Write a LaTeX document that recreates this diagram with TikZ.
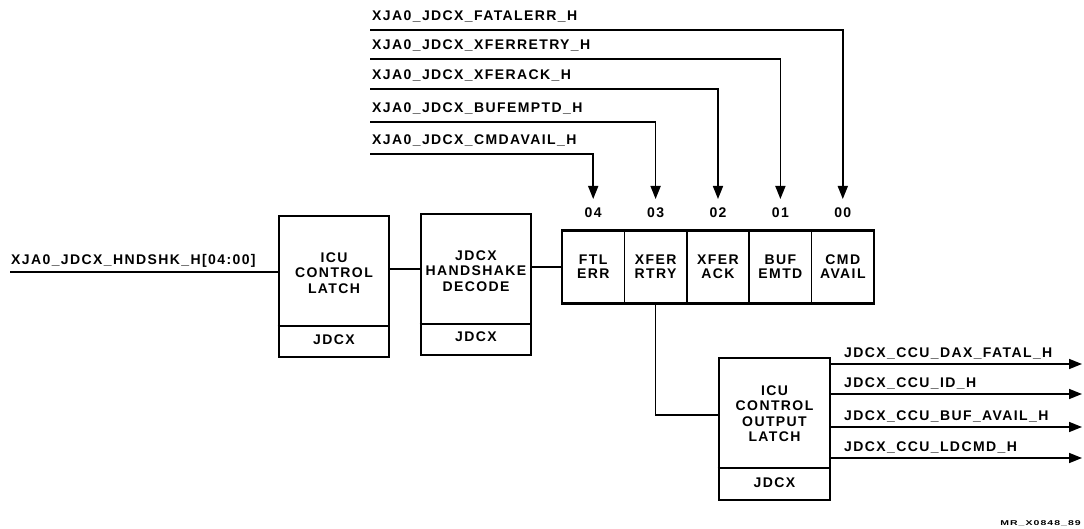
\documentclass[tikz,border=0pt]{standalone}
\usepackage{fontspec}
\setmainfont{Liberation Sans}[LetterSpace=10]
\usetikzlibrary{arrows.meta,calc}
\begin{document}
\begin{tikzpicture}[x=1pt,y=-1pt,
  txt/.style={font=\bfseries\fontsize{14}{15.5}\selectfont, inner sep=0pt, align=center},
  box/.style={draw, line width=2.6pt, inner sep=0pt},
  divl/.style={line width=1.8pt},
  wire/.style={line width=1.6pt},
  arr/.style={wire, -{Triangle[length=13pt,width=10pt]}},
  cell/.style={draw, line width=1.6pt, minimum width=62.4pt, minimum height=73pt, inner sep=0pt,
    font=\bfseries\fontsize{14}{14}\selectfont, align=center}]
\useasboundingbox (0,0) rectangle (1084,529);

% input
\coordinate (in) at (10,272);
\node[txt, anchor=base west] (inlab) at (11,265) {XJA0\_JDCX\_HNDSHK\_H[04:00]};

% ICU control latch
\node[box, minimum width=110pt, minimum height=141pt] (icu) at (334,286.5) {};
\draw[divl] (icu.west |- 0,326) -- (icu.east |- 0,326);
\node[txt] (icut) at (334,273) {ICU\\CONTROL\\LATCH};
\node[txt] (icuj) at (334,340) {JDCX};

% handshake decode
\node[box, minimum width=110pt, minimum height=141pt] (dec) at (476,284.5) {};
\draw[divl] (dec.west |- 0,324) -- (dec.east |- 0,324);
\node[txt] (dect) at (476,271) {JDCX\\HANDSHAKE\\DECODE};
\node[txt] (decj) at (476,337) {JDCX};

% register
\node[cell] (c4) at (593.2,267) {FTL\\ERR};
\node[cell] (c3) at (655.6,267) {XFER\\RTRY};
\node[cell] (c2) at (718,267) {XFER\\ACK};
\node[cell] (c1) at (780.4,267) {BUF\\EMTD};
\node[cell] (c0) at (842.8,267) {CMD\\AVAIL};
\node[box, minimum width=312pt, minimum height=73pt] (reg) at (718,267) {};

\node[txt] (n4) at (593.2,213) {04};
\node[txt] (n3) at (655.6,213) {03};
\node[txt] (n2) at (718,213) {02};
\node[txt] (n1) at (780.4,213) {01};
\node[txt] (n0) at (842.8,213) {00};
\coordinate (a4) at (593.2,199);
\coordinate (a3) at (655.6,199);
\coordinate (a2) at (718,199);
\coordinate (a1) at (780.4,199);
\coordinate (a0) at (842.8,199);

% top signals
\coordinate (s0) at (370,30);
\coordinate (s1) at (370,59);
\coordinate (s2) at (370,89);
\coordinate (s3) at (370,122);
\coordinate (s4) at (370,154);
\node[txt, anchor=base west] (l0) at (372,21) {XJA0\_JDCX\_FATALERR\_H};
\node[txt, anchor=base west] (l1) at (372,50) {XJA0\_JDCX\_XFERRETRY\_H};
\node[txt, anchor=base west] (l2) at (372,80) {XJA0\_JDCX\_XFERACK\_H};
\node[txt, anchor=base west] (l3) at (372,113) {XJA0\_JDCX\_BUFEMPTD\_H};
\node[txt, anchor=base west] (l4) at (372,145) {XJA0\_JDCX\_CMDAVAIL\_H};
\draw[arr] (s0) -| (a0);
\draw[arr] (s1) -| (a1);
\draw[arr] (s2) -| (a2);
\draw[arr] (s3) -| (a3);
\draw[arr] (s4) -| (a4);

% output latch
\node[box, minimum width=111pt, minimum height=142pt] (lat) at (774.5,429) {};
\draw[divl] (lat.west |- 0,468) -- (lat.east |- 0,468);
\node[txt] (latt) at (774.5,413.5) {ICU\\CONTROL\\OUTPUT\\LATCH};
\node[txt] (latj) at (774.5,483) {JDCX};
\coordinate (latin) at (719,415);

% outputs
\coordinate (o1) at (1082,364);
\coordinate (o2) at (1082,394);
\coordinate (o3) at (1082,427);
\coordinate (o4) at (1082,458);
\node[txt, anchor=base west] (ol1) at (844,357) {JDCX\_CCU\_DAX\_FATAL\_H};
\node[txt, anchor=base west] (ol2) at (844,387) {JDCX\_CCU\_ID\_H};
\node[txt, anchor=base west] (ol3) at (844,420) {JDCX\_CCU\_BUF\_AVAIL\_H};
\node[txt, anchor=base west] (ol4) at (844,451) {JDCX\_CCU\_LDCMD\_H};
\draw[arr] (lat.east |- o1) -- (o1);
\draw[arr] (lat.east |- o2) -- (o2);
\draw[arr] (lat.east |- o3) -- (o3);
\draw[arr] (lat.east |- o4) -- (o4);

% connectors
\draw[wire] (in) -- (in -| icu.west);
\draw[wire] (icu.east |- 0,269) -- (dec.west |- 0,269);
\draw[wire] (dec.east |- 0,267) -- (reg.west |- 0,267);
\draw[wire] (c3.south) |- (latin);

% figure id
\node[font=\bfseries\fontsize{7}{8}\selectfont, inner sep=0pt, anchor=east] (mr) at (1081,523) {\scalebox{1.5}[1]{MR\_X0848\_89}};
\end{tikzpicture}
\end{document}
